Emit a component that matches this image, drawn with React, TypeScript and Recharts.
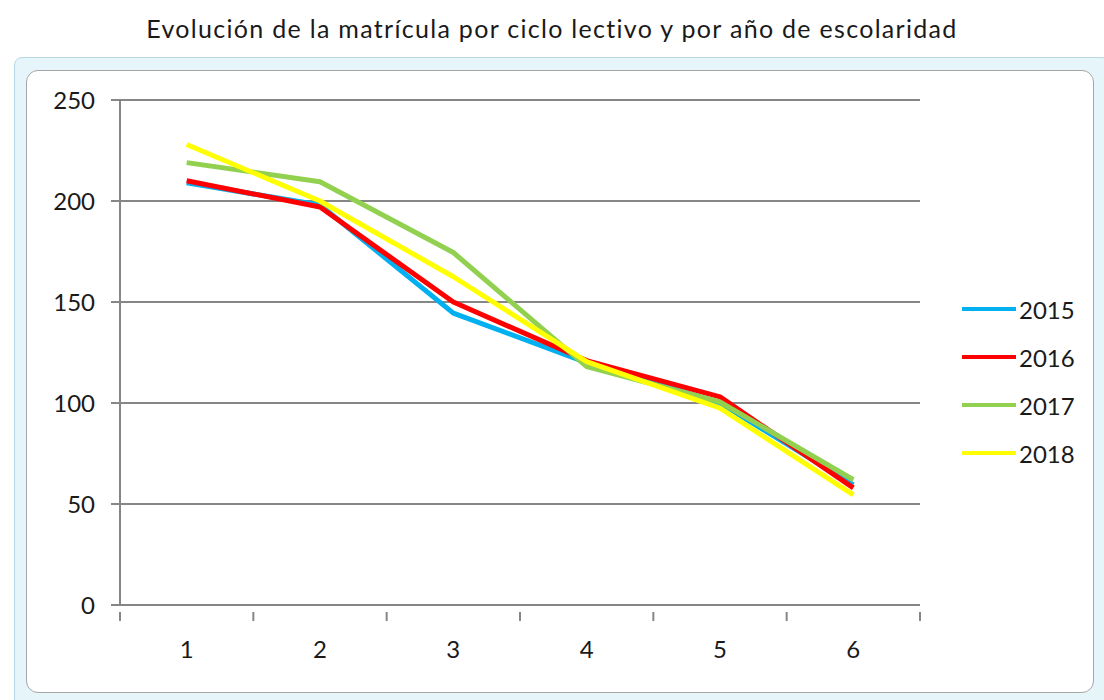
import { LineChart, Line, XAxis, YAxis, CartesianGrid } from "recharts";

const grades = [1, 2, 3, 4, 5, 6];
const m2015 = [209, 198, 144.5, 120, 100, 59.5];
const m2016 = [210, 197, 150, 121, 103, 58];
const m2017 = [219, 209.5, 174.5, 118, 100.5, 62];
const m2018 = [228, 200, 162.5, 120.5, 97.5, 54.5];
const yTicks = [0, 50, 100, 150, 200, 250];
const xTicks = [0.5, 1, 1.5, 2, 2.5, 3, 3.5, 4, 4.5, 5, 5.5, 6, 6.5];

const series = [
  { key: "2015", color: "#00b0f0" },
  { key: "2016", color: "#ff0000" },
  { key: "2017", color: "#92d050" },
  { key: "2018", color: "#ffff00" },
];

const data = grades.map((g, i) => ({
  grade: g,
  "2015": m2015[i],
  "2016": m2016[i],
  "2017": m2017[i],
  "2018": m2018[i],
}));

const FONT = "Lato, 'Open Sans', sans-serif";
const AXIS = "#868686";

// x axis: labels at the grades, tick marks between categories (Excel style)
function XTick(props: any) {
  const { x, y, payload } = props;
  const v = payload.value as number;
  if (Number.isInteger(v)) {
    return (
      <text x={x} y={y + 45} textAnchor="middle" fontSize={24} fontFamily={FONT} fill="#1a1a1a">
        {v}
      </text>
    );
  }
  return <line x1={x} x2={x} y1={y - 1} y2={y + 8} stroke={AXIS} strokeWidth={2} />;
}

function LegendBox() {
  return (
    <div style={{ fontFamily: FONT, fontSize: 24, color: "#1a1a1a" }}>
      {series.map((s) => (
        <div key={s.key} style={{ display: "flex", alignItems: "center", height: 48 }}>
          <span style={{ display: "inline-block", width: 54, height: 4, background: s.color, marginRight: 3 }} />
          <span>{s.key}</span>
        </div>
      ))}
    </div>
  );
}

export default function App() {
  return (
    <div style={{ position: "absolute", left: 0, top: 0, width: 1104, height: 700, background: "#fff", overflow: "hidden" }}>
      <div
        style={{
          position: "absolute",
          left: 0,
          top: 13,
          width: 1104,
          textAlign: "center",
          fontFamily: FONT,
          fontSize: 25,
          letterSpacing: 1.3,
          color: "#1a1a1a",
        }}
      >
        Evolución de la matrícula por ciclo lectivo y por año de escolaridad
      </div>
      <div
        style={{
          position: "absolute",
          left: 14,
          top: 57,
          width: 1094,
          height: 650,
          background: "#e6f5fa",
          border: "1px solid #b7d9e6",
          borderRadius: 8,
        }}
      />
      <div
        style={{
          position: "absolute",
          left: 26,
          top: 70,
          width: 1066,
          height: 621,
          background: "#fff",
          border: "1px solid #a6a6a6",
          borderRadius: 12,
        }}
      />
      <div style={{ position: "absolute", left: 0, top: 0 }}>
        <LineChart width={1104} height={700} data={data} margin={{ top: 100, right: 184, bottom: 65, left: 40 }}>
          <CartesianGrid vertical={false} stroke={AXIS} strokeWidth={2} />
          <XAxis
            dataKey="grade"
            type="number"
            domain={[0.5, 6.5]}
            ticks={xTicks}
            interval={0}
            height={30}
            axisLine={{ stroke: AXIS, strokeWidth: 2 }}
            tickLine={false}
            tick={<XTick />}
          />
          <YAxis
            domain={[0, 250]}
            ticks={yTicks}
            width={80}
            axisLine={{ stroke: AXIS, strokeWidth: 2 }}
            tickLine={{ stroke: AXIS, strokeWidth: 2 }}
            tickSize={9}
            tickMargin={16}
            tick={{ fontSize: 24, fontFamily: FONT, fill: "#1a1a1a" }}
          />
          {series.map((s) => (
            <Line
              key={s.key}
              dataKey={s.key}
              stroke={s.color}
              strokeWidth={5}
              dot={false}
              isAnimationActive={false}
              strokeLinejoin="round"
            />
          ))}
        </LineChart>
      </div>
      <div style={{ position: "absolute", left: 962, top: 285 }}>
        <LegendBox />
      </div>
    </div>
  );
}
